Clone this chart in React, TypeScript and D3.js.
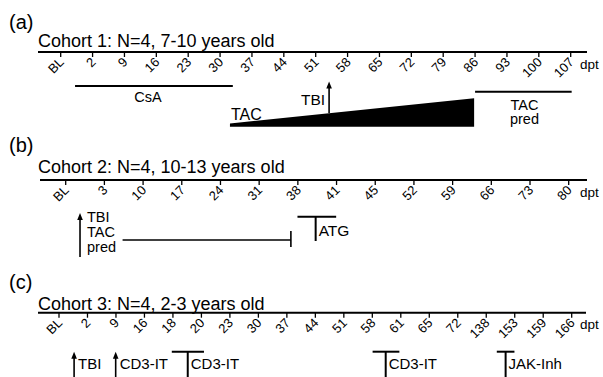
import * as d3 from "d3";

// tick labels (days post transplant) for each cohort
const cohort1Ticks = ["BL", "2", "9", "16", "23", "30", "37", "44", "51", "58", "65", "72", "79", "86", "93", "100", "107"];
const cohort2Ticks = ["BL", "3", "10", "17", "24", "31", "38", "41", "45", "52", "59", "66", "73", "80"];
const cohort3Ticks = ["BL", "2", "9", "16", "18", "20", "23", "30", "37", "44", "51", "58", "61", "65", "72", "138", "153", "159", "166"];

// treatment positions, in tick-index units
const cohort1Bars = [
  { label: ["CsA"], start: 0.45, end: 5.4, labelAt: 2.74 },
  { label: ["TAC", "pred"], start: 13.0, end: 16.03, labelAt: 14.55 },
];
const cohort1Ramp = { label: "TAC", start: 5.31, end: 12.97 };
const cohort1Arrows = [{ label: ["TBI"], at: 8.42 }];

const cohort2Arrows = [{ label: ["TBI", "TAC", "pred"], at: 0.37 }];
const cohort2Stops = [{ start: 1.47, end: 5.82 }];
const cohort2Tees = [{ label: "ATG", start: 5.99, end: 6.99, stem: 6.46 }];

const cohort3Arrows = [
  { label: ["TBI"], at: 0.53 },
  { label: ["CD3-IT"], at: 1.99 },
];
const cohort3Tees = [
  { label: "CD3-IT", start: 3.96, end: 5.09, stem: 4.52 },
  { label: "CD3-IT", start: 11.01, end: 11.95, stem: 11.47 },
  { label: "JAK-Inh", start: 15.37, end: 15.99, stem: 15.68 },
];

const W = 603;
const H = 377;
const FONT = "'Liberation Sans', Arial, sans-serif";

function Axis({ ticks, x, y, x0, x1, tag, tagY, title, titleY }) {
  return (
    <g>
      <text x={9} y={tagY} fontSize={20}>{tag}</text>
      <text x={38} y={titleY} fontSize={18}>{title}</text>
      <line x1={x0} x2={x1} y1={y} y2={y} stroke="#000" strokeWidth={2} />
      {ticks.map((t, i) => (
        <g key={i}>
          <line x1={x(i)} x2={x(i)} y1={y} y2={y + 5} stroke="#000" strokeWidth={1.3} />
          <text
            transform={`translate(${x(i) + 4},${y + 11}) rotate(-45)`}
            textAnchor="end"
            fontSize={13}
          >
            {t}
          </text>
        </g>
      ))}
      <text x={580} y={y + 16.5} fontSize={13.5}>dpt</text>
    </g>
  );
}

function Arrow({ cx, top, bottom }) {
  return (
    <g>
      <line x1={cx} x2={cx} y1={top + 5} y2={bottom} stroke="#000" strokeWidth={1.6} />
      <path d={`M${cx},${top} L${cx - 2.8},${top + 7} L${cx + 2.8},${top + 7} Z`} fill="#000" />
    </g>
  );
}

export default function App() {
  const xa = d3.scaleLinear([0, cohort1Ticks.length - 1], [60.7, 570.7]);
  const xb = d3.scaleLinear([0, cohort2Ticks.length - 1], [65.7, 568.7]);
  const xc = d3.scaleLinear([0, cohort3Ticks.length - 1], [59, 571.7]);

  const ya = 52;
  const yb = 180;
  const yc = 312.7;

  const ramp = d3.line()([
    [xa(cohort1Ramp.start), ya + 74.7],
    [xa(cohort1Ramp.start), ya + 71.5],
    [xa(cohort1Ramp.end), ya + 46.3],
    [xa(cohort1Ramp.end), ya + 74.7],
  ]) + "Z";

  return (
    <svg
      width={W}
      height={H}
      style={{ position: "absolute", left: 0, top: 0, background: "#fff" }}
      fontFamily={FONT}
      fill="#000"
    >
      {/* (a) */}
      <Axis ticks={cohort1Ticks} x={xa} y={ya} x0={38} x1={587} tag="(a)" tagY={29}
        title="Cohort 1: N=4, 7-10 years old" titleY={47} />
      {cohort1Bars.map((b, i) => (
        <g key={i}>
          <line x1={xa(b.start)} x2={xa(b.end)} y1={i === 0 ? ya + 34 : ya + 39.7} y2={i === 0 ? ya + 34 : ya + 39.7}
            stroke="#000" strokeWidth={2} />
          {b.label.map((l, j) => (
            <text key={j} x={xa(b.labelAt)} y={(i === 0 ? ya + 49.5 : ya + 57.5) + j * 14.5}
              textAnchor="middle" fontSize={14.5}>{l}</text>
          ))}
        </g>
      ))}
      <path d={ramp} fill="#000" />
      <text x={xa(cohort1Ramp.start) + 1} y={ya + 68} fontSize={16}>{cohort1Ramp.label}</text>
      {cohort1Arrows.map((a, i) => (
        <g key={i}>
          <Arrow cx={xa(a.at)} top={ya + 29.5} bottom={ya + 61} />
          <text x={xa(a.at) - 4} y={ya + 53} textAnchor="end" fontSize={15.5}>{a.label[0]}</text>
        </g>
      ))}

      {/* (b) */}
      <Axis ticks={cohort2Ticks} x={xb} y={yb} x0={40} x1={587} tag="(b)" tagY={152}
        title="Cohort 2: N=4, 10-13 years old" titleY={173} />
      {cohort2Arrows.map((a, i) => (
        <g key={i}>
          <Arrow cx={xb(a.at)} top={yb + 33} bottom={yb + 77} />
          {a.label.map((l, j) => (
            <text key={j} x={xb(a.at) + 7} y={yb + 42 + j * 14.8} fontSize={14.5}>{l}</text>
          ))}
        </g>
      ))}
      {cohort2Stops.map((s, i) => (
        <g key={i}>
          <line x1={xb(s.start)} x2={xb(s.end)} y1={yb + 60} y2={yb + 60} stroke="#000" strokeWidth={1.6} />
          <line x1={xb(s.end)} x2={xb(s.end)} y1={yb + 51} y2={yb + 67} stroke="#000" strokeWidth={1.6} />
        </g>
      ))}
      {cohort2Tees.map((t, i) => (
        <g key={i}>
          <line x1={xb(t.start)} x2={xb(t.end)} y1={yb + 36.7} y2={yb + 36.7} stroke="#000" strokeWidth={2} />
          <line x1={xb(t.stem)} x2={xb(t.stem)} y1={yb + 36.7} y2={yb + 61} stroke="#000" strokeWidth={2} />
          <text x={xb(t.stem) + 3} y={yb + 56} fontSize={15.5}>{t.label}</text>
        </g>
      ))}

      {/* (c) */}
      <Axis ticks={cohort3Ticks} x={xc} y={yc} x0={38} x1={586} tag="(c)" tagY={289}
        title="Cohort 3: N=4, 2-3 years old" titleY={309.5} />
      {cohort3Arrows.map((a, i) => (
        <g key={i}>
          <Arrow cx={xc(a.at)} top={yc + 39} bottom={H} />
          <text x={xc(a.at) + 4} y={yc + 56} fontSize={15}>{a.label[0]}</text>
        </g>
      ))}
      {cohort3Tees.map((t, i) => (
        <g key={i}>
          <line x1={xc(t.start)} x2={xc(t.end)} y1={yc + 39} y2={yc + 39} stroke="#000" strokeWidth={2} />
          <line x1={xc(t.stem)} x2={xc(t.stem)} y1={yc + 39} y2={H} stroke="#000" strokeWidth={2} />
          <text x={xc(t.stem) + 3} y={yc + 56} fontSize={15}>{t.label}</text>
        </g>
      ))}
    </svg>
  );
}
